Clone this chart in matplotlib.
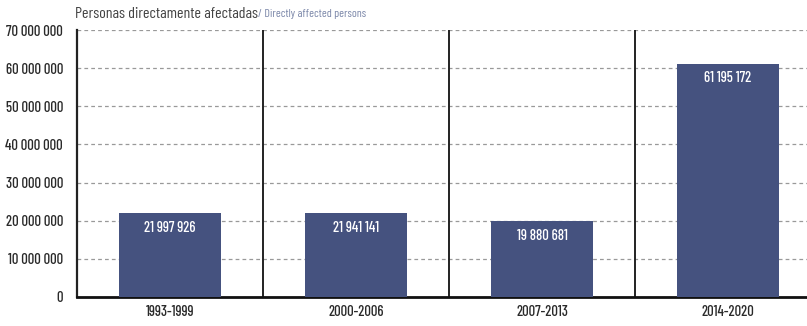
import matplotlib
matplotlib.use("Agg")
import matplotlib.pyplot as plt
from matplotlib.ticker import FuncFormatter

categories = ["1993-1999", "2000-2006", "2007-2013", "2014-2020"]
values = [21997926, 21941141, 19880681, 61195172]
value_labels = ["21 997 926", "21 941 141", "19 880 681", "61 195 172"]
yticks = [0, 10000000, 20000000, 30000000, 40000000, 50000000, 60000000, 70000000]

plt.rcParams['font.family'] = ['Barlow Condensed', 'DejaVu Sans']

fig = plt.figure(figsize=(8.07, 3.26), dpi=100)
ax = fig.add_axes([77/807, (326-297)/326, (807-77)/807, (297-30)/326])

bar_color = "#45527f"
x = list(range(len(categories)))
ax.bar(x, values, width=0.545, color=bar_color, zorder=3)

for xi, v, lab in zip(x, values, value_labels):
    ax.text(xi, v - 2000000, lab, color="white", ha="center", va="top",
            fontsize=10.5, fontweight="medium", zorder=4)

ax.set_xlim(-0.5, 3.425)
ax.set_ylim(0, 70000000)
ax.set_yticks(yticks)
ax.yaxis.set_major_formatter(FuncFormatter(lambda v, p: f"{int(v):,}".replace(",", " ")))
ax.set_xticks(x)
ax.set_xticklabels(categories)
ax.tick_params(axis='both', length=0, labelsize=10.5, colors="#2a2a2a")
for lbl in ax.get_xticklabels() + ax.get_yticklabels():
    lbl.set_fontweight("medium")
ax.tick_params(axis='x', pad=6)
ax.tick_params(axis='y', pad=10)

ax.yaxis.grid(True, linestyle=(0, (3, 2.5)), color="#999999", linewidth=0.9, zorder=0)
for sep in [0.5, 1.5, 2.5]:
    ax.axvline(sep, color="#222222", linewidth=1.4, zorder=2)

for s in ["top", "right"]:
    ax.spines[s].set_visible(False)
ax.spines["left"].set_linewidth(1.6)
ax.spines["left"].set_color("#222222")
ax.spines["bottom"].set_linewidth(2.0)
ax.spines["bottom"].set_color("#111111")

t1 = fig.text(75/807, 1 - 14/326, "Personas directamente afectadas", fontsize=11.5,
              color="#444444", va="center", ha="left")
fig.canvas.draw()
bb = t1.get_window_extent()
fig.text(bb.x1 / fig.bbox.width, 1 - 14/326, "/ Directly affected persons", fontsize=8.5,
         color="#7a86a8", va="center", ha="left")

fig.savefig("out.png", dpi=100)
